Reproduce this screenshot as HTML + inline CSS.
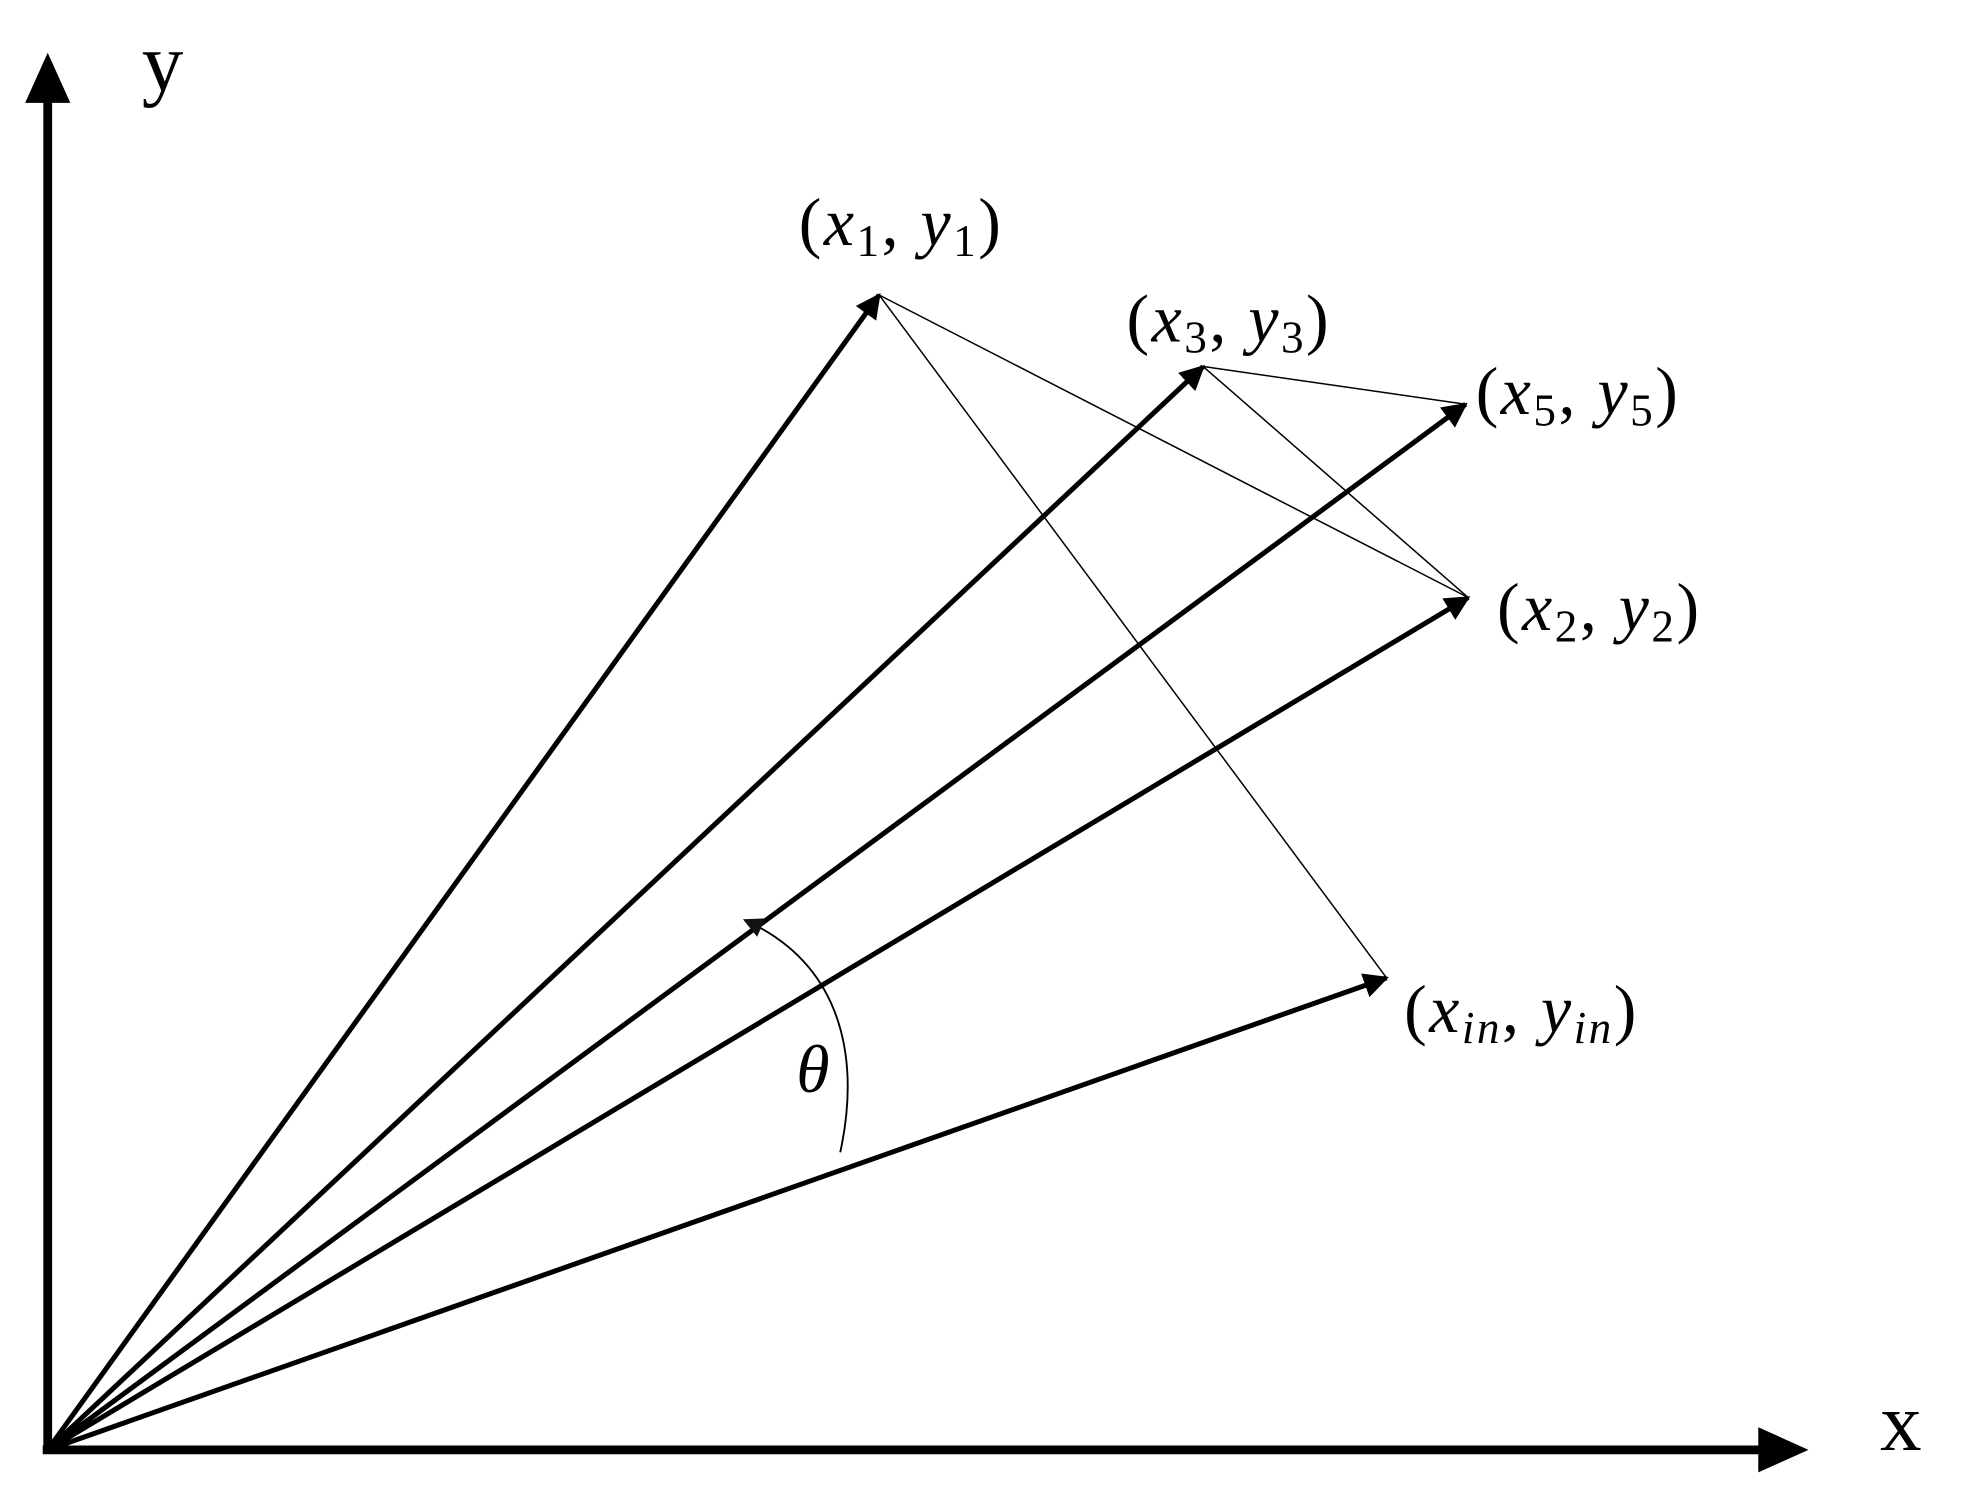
<!DOCTYPE html>
<html><head><style>html,body{margin:0;padding:0;background:#fff}svg{display:block}</style></head>
<body>
<svg width="1963" height="1490" viewBox="0 0 1563 1187" preserveAspectRatio="none" xmlns="http://www.w3.org/2000/svg">
<defs>
<marker id="a" viewBox="0 0 10 10" refX="9" refY="5" markerWidth="5" markerHeight="5" orient="auto" markerUnits="strokeWidth"><path d="M0,0 L10,5 L0,10 Z" fill="#000"/></marker>
<marker id="s" viewBox="0 0 10 10" refX="9" refY="5" markerWidth="20" markerHeight="16" orient="auto" markerUnits="userSpaceOnUse"><path d="M0,0 L10,5 L0,10 Z" fill="#111"/></marker>
</defs>
<g stroke="#000" fill="none">
<line x1="38" y1="1158" x2="38" y2="80" stroke-width="7"/>
<path d="M38,42 L20,82 L56,82 Z" fill="#000" stroke="none"/>
<line x1="34" y1="1155" x2="1405" y2="1155" stroke-width="7"/>
<path d="M1440,1155 L1400,1137 L1400,1173 Z" fill="#000" stroke="none"/>
<g stroke-width="4" marker-end="url(#a)">
<line x1="38" y1="1155" x2="700" y2="235"/>
<line x1="38" y1="1155" x2="958" y2="292"/>
<line x1="38" y1="1155" x2="1167" y2="322"/>
<line x1="38" y1="1155" x2="1169" y2="476"/>
<line x1="38" y1="1155" x2="1104" y2="779"/>
</g>
<g stroke-width="1.2">
<line x1="700" y1="235" x2="1104" y2="779"/>
<line x1="700" y1="235" x2="1169" y2="476"/>
<line x1="958" y1="292" x2="1167" y2="322"/>
<line x1="958" y1="292" x2="1169" y2="476"/>
</g>
<path d="M669,918 C684,850 675,770 593,733" stroke-width="1.5" marker-end="url(#s)"/>
</g>
<g font-family="Liberation Serif, serif" fill="#000">
<text x="113" y="72" font-size="66">y</text>
<text x="1497" y="1155" font-size="66">x</text>
<g font-size="54" letter-spacing="2">
<text x="636" y="195">(<tspan font-style="italic">x</tspan><tspan font-size="36" dy="9">1</tspan><tspan dy="-9">, </tspan><tspan font-style="italic">y</tspan><tspan font-size="36" dy="9">1</tspan><tspan dy="-9">)</tspan></text>
<text x="897" y="272">(<tspan font-style="italic">x</tspan><tspan font-size="36" dy="9">3</tspan><tspan dy="-9">, </tspan><tspan font-style="italic">y</tspan><tspan font-size="36" dy="9">3</tspan><tspan dy="-9">)</tspan></text>
<text x="1175" y="330">(<tspan font-style="italic">x</tspan><tspan font-size="36" dy="9">5</tspan><tspan dy="-9">, </tspan><tspan font-style="italic">y</tspan><tspan font-size="36" dy="9">5</tspan><tspan dy="-9">)</tspan></text>
<text x="1192" y="502">(<tspan font-style="italic">x</tspan><tspan font-size="36" dy="9">2</tspan><tspan dy="-9">, </tspan><tspan font-style="italic">y</tspan><tspan font-size="36" dy="9">2</tspan><tspan dy="-9">)</tspan></text>
<text x="1118" y="822">(<tspan font-style="italic">x</tspan><tspan font-size="36" font-style="italic" dy="9">in</tspan><tspan dy="-9">, </tspan><tspan font-style="italic">y</tspan><tspan font-size="36" font-style="italic" dy="9">in</tspan><tspan dy="-9">)</tspan></text>
<text x="634" y="870" font-style="italic">θ</text>
</g>
</g>
</svg>
</body></html>
